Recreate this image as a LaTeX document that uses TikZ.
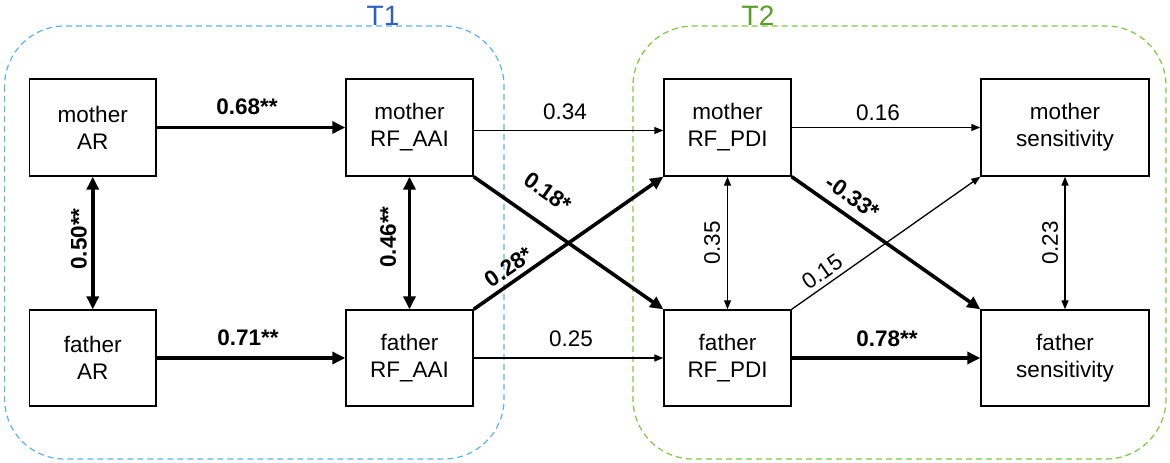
\documentclass[tikz,border=0pt]{standalone}
\usepackage{fontspec}
\setmainfont{Liberation Sans}
\usetikzlibrary{arrows.meta}
\definecolor{tonedash}{HTML}{5AB4E8}
\definecolor{tonetext}{HTML}{2F5FC2}
\definecolor{ttwodash}{HTML}{7DC843}
\definecolor{ttwotext}{HTML}{56A02A}
\begin{document}
\begin{tikzpicture}[x=1pt,y=-1pt,
  box/.style={draw,line width=1.4pt,align=center,inner sep=0pt,
    font=\fontsize{22.5}{27}\selectfont},
  lab/.style={inner sep=0pt,font=\fontsize{22.5}{27}\selectfont},
  blab/.style={inner sep=0pt,font=\fontsize{22.5}{27}\selectfont\bfseries},
  bigarr/.style={line width=3.6pt,-{Triangle[length=13pt,width=12pt]}},
  bigdbl/.style={line width=3.6pt,{Triangle[length=13pt,width=12pt]}-{Triangle[length=13pt,width=12pt]}},
  smallarr/.style={line width=1.3pt,-{Triangle[length=9pt,width=7pt]}},
  smalldbl/.style={line width=1.3pt,{Triangle[length=9pt,width=7pt]}-{Triangle[length=9pt,width=7pt]}},
  group/.style={line width=1.2pt,dash pattern=on 6pt off 4pt,rounded corners=60pt},
  grouplab/.style={inner sep=0pt,anchor=base,font=\fontsize{28}{30}\selectfont}
]
\useasboundingbox (0,0) rectangle (1170,463);
% groups
\draw[group,tonedash] (4.6,26) rectangle (504,459);
\draw[group,ttwodash] (633,26) rectangle (1166,459);
\node[grouplab,text=tonetext] (tone) at (383,25) {T1};
\node[grouplab,text=ttwotext] (ttwo) at (758,25) {T2};
% boxes
\node[box,minimum width=126.5pt,minimum height=97pt] (mAR) at (92.75,127.5) {mother\\AR};
\node[box,minimum width=126.5pt,minimum height=96pt] (fAR) at (92.75,358) {father\\AR};
\node[box,minimum width=127pt,minimum height=97pt] (mAAI) at (409.5,127.5) {mother\\RF\_AAI};
\node[box,minimum width=127pt,minimum height=96pt] (fAAI) at (409.5,358) {father\\RF\_AAI};
\node[box,minimum width=127pt,minimum height=97pt] (mPDI) at (727.5,127.5) {mother\\RF\_PDI};
\node[box,minimum width=127pt,minimum height=96pt] (fPDI) at (727.5,358) {father\\RF\_PDI};
\node[box,minimum width=168pt,minimum height=97pt] (mSen) at (1065,127.5) {mother\\sensitivity};
\node[box,minimum width=168pt,minimum height=96pt] (fSen) at (1065,358) {father\\sensitivity};
% connectors
\draw[bigarr] (mAR.east) -- (mAAI.west);
\draw[bigarr] (fAR.east) -- (fAAI.west);
\draw[bigdbl] (mAR.south) -- (fAR.north);
\draw[bigdbl] (mAAI.south) -- (fAAI.north);
\draw[smallarr] ([yshift=-3pt]mAAI.east) -- ([yshift=-3pt]mPDI.west);
\draw[smallarr] (fAAI.east) -- (fPDI.west);
\draw[bigarr] (mAAI.south east) -- (fPDI.north west);
\draw[bigarr] (fAAI.north east) -- (mPDI.south west);
\draw[smalldbl] (mPDI.south) -- (fPDI.north);
\draw[smalldbl] (mSen.south) -- (fSen.north);
\draw[smallarr] (mPDI.east) -- (mSen.west);
\draw[bigarr] (fPDI.east) -- (fSen.west);
\draw[bigarr] (mPDI.south east) -- (fSen.north west);
\draw[smallarr] (fPDI.north east) -- (mSen.south west);
% labels
\node[blab,anchor=base] (l68) at (247,114) {0.68**};
\node[blab,anchor=base] (l71) at (248,345) {0.71**};
\node[blab,rotate=90] (l50) at (79,239) {0.50**};
\node[blab,rotate=90] (l46) at (388,237) {0.46**};
\node[lab,anchor=base] (l34) at (565,119) {0.34};
\node[lab,anchor=base] (l25) at (571,346) {0.25};
\node[blab,rotate=-35] (l18) at (548,192) {0.18*};
\node[blab,rotate=35] (l28) at (509,267) {0.28*};
\node[lab,rotate=90] (l35) at (712,243) {0.35};
\node[lab,rotate=90] (l23) at (1050,243) {0.23};
\node[lab,anchor=base] (l16) at (878,120) {0.16};
\node[blab,anchor=base] (l78) at (887,346) {0.78**};
\node[blab,rotate=-35] (l33) at (853,197) {-0.33*};
\node[lab,rotate=35] (l15) at (822,272) {0.15};
\end{tikzpicture}
\end{document}
